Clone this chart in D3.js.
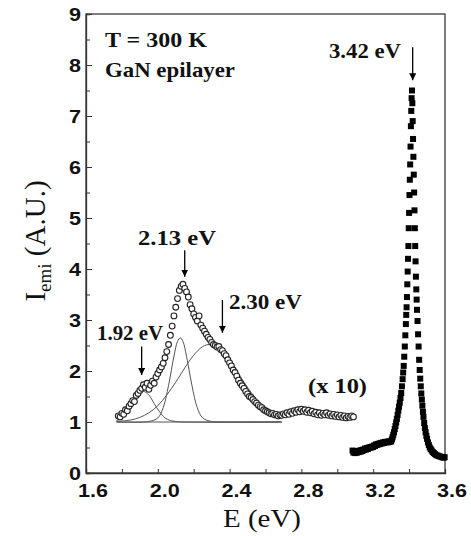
<!DOCTYPE html>
<html><head><meta charset="utf-8">
<script src="https://cdn.jsdelivr.net/npm/d3@7"></script>
<style>body{margin:0;background:#fff}</style>
</head><body>
<svg id="c" width="471" height="536"></svg>
<script>
// ---------- DATA ----------
const xTickValues = [1.6, 2.0, 2.4, 2.8, 3.2, 3.6];
const xTickLabels = ["1.6", "2.0", "2.4", "2.8", "3.2", "3.6"];
const yTickValues = [0, 1, 2, 3, 4, 5, 6, 7, 8, 9];
const yTickLabels = ["0", "1", "2", "3", "4", "5", "6", "7", "8", "9"];

// visible band (x 10), open circles
const visE = [1.78,1.79,1.80,1.81,1.82,1.83,1.84,1.85,1.86,1.87,1.88,1.89,1.90,1.91,1.92,1.93,1.94,1.95,1.96,1.97,1.98,1.99,
  2.00,2.01,2.02,2.03,2.04,2.05,2.06,2.07,2.08,2.09,2.10,2.11,2.12,2.13,2.14,2.15,2.16,2.17,2.18,2.19,
  2.20,2.21,2.22,2.23,2.24,2.25,2.26,2.27,2.28,2.29,2.30,2.31,2.32,2.33,2.34,2.35,2.36,2.37,2.38,2.39,
  2.40,2.41,2.42,2.43,2.44,2.45,2.46,2.47,2.48,2.49,2.50,2.51,2.52,2.53,2.54,2.55,2.56,2.57,2.58,2.59,
  2.60,2.61,2.62,2.63,2.64,2.65,2.66,2.67,2.68,2.69,2.70,2.71,2.72,2.73,2.74,2.75,2.76,2.77,2.78,2.79,
  2.80,2.81,2.82,2.83,2.84,2.85,2.86,2.87,2.88,2.89,2.90,2.91,2.92,2.93,2.94,2.95,2.96,2.97,2.98,2.99,
  3.00,3.01,3.02,3.03,3.04,3.05,3.06,3.07,3.08,3.09];
const visI = [1.12,1.10,1.17,1.15,1.24,1.22,1.31,1.36,1.42,1.40,1.52,1.56,1.62,1.66,1.73,1.68,1.76,1.64,1.72,1.80,1.76,1.88,
  1.95,2.02,2.08,2.15,2.26,2.38,2.52,2.70,2.88,3.08,3.25,3.42,3.58,3.66,3.70,3.62,3.55,3.45,3.30,3.22,
  3.12,3.05,2.98,3.08,2.90,2.84,2.78,2.72,2.66,2.62,2.56,2.52,2.50,2.47,2.48,2.42,2.40,2.34,2.30,2.22,
  2.16,2.10,2.02,1.97,1.90,1.82,1.76,1.71,1.66,1.60,1.55,1.50,1.48,1.44,1.40,1.37,1.33,1.30,1.28,1.24,
  1.22,1.20,1.18,1.16,1.17,1.14,1.15,1.12,1.14,1.13,1.16,1.14,1.18,1.15,1.20,1.17,1.22,1.19,1.24,1.20,
  1.25,1.21,1.24,1.19,1.23,1.18,1.21,1.16,1.19,1.14,1.18,1.13,1.17,1.14,1.18,1.13,1.16,1.12,1.15,1.11,
  1.14,1.10,1.13,1.09,1.12,1.08,1.11,1.09,1.12,1.10];

// band-edge peak, filled squares
const uvE = [3.085,3.090,3.095,3.100,3.105,3.110,3.115,3.120,3.125,3.130,3.135,3.140,3.145,3.150,3.155,3.160,3.165,3.170,3.175,3.180,
  3.185,3.190,3.195,3.200,3.205,3.210,3.215,3.220,3.225,3.230,3.235,3.240,3.245,3.250,3.255,3.260,3.265,3.270,3.275,3.280,3.285,3.290,3.295,
  3.300,3.304,3.308,3.312,3.316,3.320,3.324,3.328,3.332,3.336,3.340,3.344,3.348,3.352,3.356,3.360,3.364,3.367,3.370,3.373,3.376,3.379,
  3.382,3.384,3.386,3.388,3.390,3.392,3.394,3.396,3.398,3.400,3.402,3.404,3.406,3.408,3.410,3.412,3.414,3.416,
  3.418,3.420,3.422,3.424,3.426,3.428,3.430,3.432,3.434,3.436,3.438,3.440,3.442,3.444,3.447,3.450,3.453,3.456,3.459,3.462,3.465,3.468,
  3.471,3.474,3.477,3.480,3.484,3.488,3.492,3.496,3.500,3.505,3.510,3.515,3.520,3.526,3.532,3.538,3.545,3.552,3.560,3.568,3.576,3.584,3.592,3.598];
const uvI = [0.44,0.40,0.43,0.39,0.42,0.40,0.43,0.41,0.44,0.42,0.45,0.43,0.46,0.45,0.48,0.46,0.49,0.47,0.50,0.49,
  0.51,0.50,0.52,0.51,0.54,0.53,0.56,0.55,0.57,0.56,0.58,0.57,0.59,0.58,0.60,0.59,0.61,0.60,0.61,0.60,0.62,0.61,0.62,
  0.62,0.66,0.70,0.75,0.80,0.86,0.92,0.99,1.06,1.14,1.22,1.30,1.38,1.47,1.57,1.70,1.84,1.97,2.10,2.28,2.48,2.70,
  2.92,3.10,3.25,3.45,3.70,3.95,4.20,4.45,4.80,5.10,5.45,5.75,6.05,6.40,6.80,7.10,7.35,7.50,
  7.25,6.90,6.55,6.20,5.85,5.50,5.15,4.80,4.45,4.15,3.85,3.60,3.40,3.20,2.98,2.72,2.48,2.22,2.02,1.85,1.70,1.56,
  1.44,1.32,1.20,1.10,0.98,0.88,0.80,0.73,0.67,0.60,0.55,0.50,0.47,0.44,0.41,0.39,0.37,0.35,0.34,0.33,0.32,0.31,0.30,0.31];

// fitted components
const fitBaseE = [1.77, 2.69];
const fitBaseI = [1.0, 1.0];
const fit192E = [1.77,1.80,1.83,1.86,1.89,1.92,1.95,1.98,2.01,2.04,2.07,2.10,2.15,2.69];
const fit192I = [1.03,1.08,1.20,1.36,1.53,1.60,1.53,1.36,1.20,1.08,1.03,1.01,1.00,1.00];
const fit213E = [1.77,1.95,2.00,2.03,2.06,2.09,2.11,2.125,2.14,2.16,2.19,2.22,2.25,2.30,2.35,2.69];
const fit213I = [1.00,1.01,1.08,1.28,1.72,2.29,2.58,2.65,2.58,2.29,1.72,1.28,1.08,1.01,1.00,1.00];
const fit230E = [1.77,1.85,1.90,1.95,2.00,2.05,2.10,2.15,2.20,2.25,2.29,2.33,2.38,2.43,2.48,2.53,2.58,2.63,2.69];
const fit230I = [1.01,1.04,1.09,1.18,1.32,1.53,1.78,2.06,2.31,2.48,2.52,2.48,2.31,2.06,1.78,1.53,1.32,1.18,1.06];

// peak annotations
const peakLabels = ["1.92 eV", "2.13 eV", "2.30 eV", "3.42 eV"];
const arrowE = [1.91, 2.15, 2.36, 3.42];
const arrowTop = [2.48, 4.37, 3.39, 8.35];
const arrowTip = [1.92, 3.85, 2.75, 7.70];

// ---------- CHART ----------
const svg = d3.select("#c");
const x = d3.scaleLinear().domain([1.6, 3.6]).range([86, 445]);
const y = d3.scaleLinear().domain([0, 9]).range([473, 14]);
const SANS = "'Liberation Sans', Arial, sans-serif";
const SERIF = "'Times New Roman', 'Liberation Serif', serif";

function fitText(t, widthOrK, anchor, isFactor) {
  const w = t.node().getComputedTextLength();
  const W = isFactor ? w * widthOrK : widthOrK;
  const x0 = +t.attr("x");
  t.attr("textLength", W).attr("lengthAdjust", "spacingAndGlyphs").attr("text-anchor", "start");
  if (anchor === "end") t.attr("x", x0 - W);
  else if (anchor === "middle") t.attr("x", x0 - W / 2);
}

// frame
svg.append("rect").attr("x", x(1.6)).attr("y", y(9)).attr("width", x(3.6) - x(1.6)).attr("height", y(0) - y(9))
  .attr("fill", "none").attr("stroke", "#3a3a3a").attr("stroke-width", 1.3);

// axes with inward ticks
const xMinor = d3.range(1.6, 3.61, 0.2).map(v => +v.toFixed(2));
const yMinor = d3.range(0, 9.01, 0.5).map(v => +v.toFixed(2));
svg.append("g").attr("transform", `translate(0,${y(0)})`)
  .call(d3.axisBottom(x).tickValues(xMinor).tickSize(-4).tickFormat(""))
  .call(g => { g.select(".domain").attr("stroke", "#333").attr("stroke-width", 1.3); g.selectAll("line").attr("stroke", "#333"); });
svg.append("g").attr("transform", `translate(${x(1.6)},0)`)
  .call(d3.axisLeft(y).tickValues(yMinor).tickSize(-4).tickFormat(""))
  .call(g => { g.select(".domain").attr("stroke", "#333").attr("stroke-width", 1.3); g.selectAll("line").attr("stroke", "#333"); });
svg.append("g").attr("transform", `translate(${x(1.6)},0)`)
  .call(d3.axisLeft(y).tickValues(yTickValues).tickSize(-6).tickFormat(""))
  .call(g => { g.select(".domain").remove(); g.selectAll("line").attr("stroke", "#333"); });

// tick labels
xTickValues.forEach((v, i) => {
  const t = svg.append("text").attr("x", x(v) + 7).attr("y", 497)
    .attr("font-family", SANS).attr("font-weight", "bold").attr("font-size", 18).attr("fill", "#111").text(xTickLabels[i]);
  fitText(t, 1.2, "middle", true);
});
yTickValues.forEach((v, i) => {
  const t = svg.append("text").attr("x", 81).attr("y", y(v) + 6.5)
    .attr("font-family", SANS).attr("font-weight", "bold").attr("font-size", 18).attr("fill", "#111").text(yTickLabels[i]);
  fitText(t, 1.2, "end", true);
});

// axis titles
const xt = svg.append("text").attr("x", 262).attr("y", 527).attr("font-family", SERIF).attr("font-size", 26).attr("fill", "#111").text("E (eV)");
fitText(xt, 78, "middle");
const yt = svg.append("text").attr("transform", "translate(45,241) rotate(-90)").attr("text-anchor", "middle")
  .attr("font-family", SERIF).attr("font-size", 29).attr("fill", "#111");
yt.append("tspan").text("I");
yt.append("tspan").attr("font-size", 19).attr("dy", 6).text("emi");
yt.append("tspan").attr("dy", -6).text(" (A.U.)");

// fit lines
const fits = [[fitBaseE, fitBaseI], [fit192E, fit192I], [fit213E, fit213I], [fit230E, fit230I]];
const line = d3.line().x(d => x(d[0])).y(d => y(d[1])).curve(d3.curveCatmullRom.alpha(0.5));
fits.forEach(([E, I]) => {
  svg.append("path").datum(E.map((e, i) => [e, I[i]])).attr("d", line)
    .attr("fill", "none").attr("stroke", "#555").attr("stroke-width", 1);
});

// circles
svg.append("g").selectAll("circle").data(visE.map((e, i) => [e, visI[i]])).join("circle")
  .attr("cx", d => x(d[0])).attr("cy", d => y(d[1])).attr("r", 2.9)
  .attr("fill", "#fff").attr("stroke", "#222").attr("stroke-width", 1.1);

// squares
const sq = 6;
svg.append("g").selectAll("rect").data(uvE.map((e, i) => [e, uvI[i]])).join("rect")
  .attr("x", d => x(d[0]) - sq / 2).attr("y", d => y(d[1]) - sq / 2).attr("width", sq).attr("height", sq)
  .attr("fill", "#000");

// arrows
svg.append("defs").append("marker").attr("id", "ah").attr("viewBox", "0 0 10 10").attr("refX", 10).attr("refY", 5)
  .attr("markerWidth", 7).attr("markerHeight", 7).attr("markerUnits", "userSpaceOnUse").attr("orient", "auto")
  .append("path").attr("d", "M0,0 L10,5 L0,10 Z").attr("fill", "#000");
arrowE.forEach((e, i) => {
  svg.append("line").attr("x1", x(e)).attr("x2", x(e)).attr("y1", y(arrowTop[i])).attr("y2", y(arrowTip[i]))
    .attr("stroke", "#000").attr("stroke-width", 1.3).attr("marker-end", "url(#ah)");
});

// annotation texts (layout positions)
const labelLayout = [
  {x: 97, y: 340, w: 66},
  {x: 138, y: 245, w: 78},
  {x: 229, y: 309, w: 73},
  {x: 329, y: 58, w: 72}
];
peakLabels.forEach((s, i) => {
  const L = labelLayout[i];
  const t = svg.append("text").attr("x", L.x).attr("y", L.y).attr("font-family", SERIF).attr("font-weight", "bold")
    .attr("font-size", 20).attr("fill", "#111").text(s);
  fitText(t, L.w, "start");
});
const notes = [
  {s: "T = 300 K", x: 105, y: 47, w: 102},
  {s: "GaN epilayer", x: 105, y: 77, w: 130},
  {s: "(x 10)", x: 308, y: 393, w: 59}
];
notes.forEach(n => {
  const t = svg.append("text").attr("x", n.x).attr("y", n.y).attr("font-family", SERIF).attr("font-weight", "bold")
    .attr("font-size", n.s === "(x 10)" ? 21 : 22).attr("fill", "#111").text(n.s);
  fitText(t, n.w, "start");
});
</script>
</body></html>
